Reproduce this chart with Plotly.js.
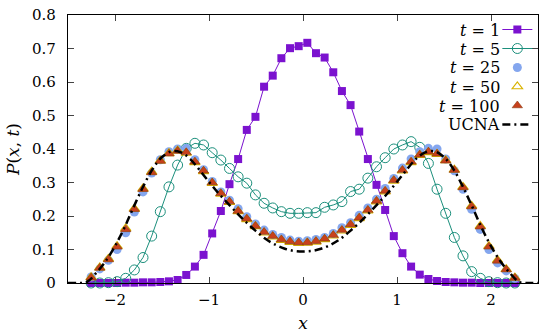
<!DOCTYPE html>
<html>
<head>
<meta charset="utf-8">
<script src="https://cdn.plot.ly/plotly-3.0.1.min.js"></script>
<style>html,body{margin:0;padding:0;background:#fff;}#chart{width:550px;height:336px;}</style>
</head>
<body>
<div id="chart"></div>
<script>
// Sample positions (histogram bin centres)
const xs = [-2.254,-2.162,-2.070,-1.978,-1.886,-1.794,-1.702,-1.610,-1.518,-1.426,-1.334,-1.242,-1.150,-1.058,-0.966,-0.874,-0.782,-0.690,-0.598,-0.506,-0.414,-0.322,-0.230,-0.138,-0.046,0.046,0.138,0.230,0.322,0.414,0.506,0.598,0.690,0.782,0.874,0.966,1.058,1.150,1.242,1.334,1.426,1.518,1.610,1.702,1.794,1.886,1.978,2.070,2.162,2.254];

const p_t1 = [0,0,0,0,0.001,0.001,0.002,0.002,0.003,0.005,0.009,0.024,0.049,0.084,0.148,0.215,0.295,0.370,0.457,0.496,0.586,0.619,0.671,0.701,0.707,0.717,0.686,0.673,0.629,0.573,0.531,0.452,0.370,0.293,0.218,0.140,0.089,0.049,0.025,0.012,0.006,0.003,0.002,0.001,0.001,0,0,0,0,0];

const p_t5 = [0,0,0.001,0.004,0.014,0.039,0.076,0.140,0.213,0.287,0.352,0.402,0.417,0.412,0.389,0.367,0.342,0.317,0.298,0.263,0.238,0.224,0.213,0.208,0.208,0.210,0.210,0.226,0.233,0.243,0.273,0.280,0.313,0.347,0.374,0.400,0.412,0.422,0.405,0.357,0.280,0.208,0.136,0.081,0.034,0.014,0.004,0.001,0,0];

const p_t25 = [0.018,0.042,0.068,0.100,0.150,0.212,0.272,0.328,0.368,0.392,0.400,0.402,0.368,0.338,0.303,0.272,0.247,0.222,0.198,0.176,0.158,0.145,0.136,0.128,0.125,0.126,0.130,0.136,0.148,0.165,0.180,0.202,0.224,0.250,0.282,0.312,0.343,0.370,0.392,0.402,0.400,0.370,0.335,0.280,0.220,0.160,0.100,0.060,0.036,0.014];

const p_t50 = [0.017,0.046,0.072,0.110,0.163,0.222,0.282,0.332,0.365,0.387,0.395,0.388,0.360,0.333,0.298,0.266,0.241,0.214,0.190,0.169,0.150,0.138,0.128,0.122,0.119,0.120,0.123,0.130,0.141,0.156,0.173,0.193,0.216,0.243,0.273,0.305,0.335,0.360,0.382,0.390,0.385,0.366,0.338,0.287,0.230,0.170,0.110,0.068,0.041,0.016];

const p_t100 = [0.016,0.045,0.070,0.108,0.160,0.220,0.280,0.330,0.364,0.386,0.394,0.390,0.362,0.335,0.300,0.268,0.243,0.215,0.192,0.170,0.152,0.140,0.130,0.124,0.121,0.121,0.125,0.132,0.143,0.158,0.175,0.195,0.218,0.245,0.275,0.307,0.337,0.362,0.383,0.392,0.386,0.365,0.337,0.285,0.228,0.168,0.108,0.066,0.040,0.015];

const x_ucna = [-2.5,-2.4,-2.3,-2.2,-2.1,-2.0,-1.9,-1.8,-1.7,-1.6,-1.5,-1.4,-1.3,-1.2,-1.1,-1.0,-0.9,-0.8,-0.7,-0.6,-0.5,-0.4,-0.3,-0.2,-0.1,0,0.1,0.2,0.3,0.4,0.5,0.6,0.7,0.8,0.9,1.0,1.1,1.2,1.3,1.4,1.5,1.6,1.7,1.8,1.9,2.0,2.1,2.2,2.3,2.4,2.5];
const p_ucna = [0,0,0.003,0.030,0.065,0.110,0.165,0.228,0.288,0.340,0.376,0.393,0.390,0.370,0.337,0.302,0.268,0.238,0.208,0.180,0.155,0.132,0.115,0.103,0.096,0.094,0.096,0.103,0.115,0.132,0.155,0.180,0.208,0.238,0.268,0.302,0.337,0.370,0.390,0.393,0.376,0.340,0.288,0.228,0.165,0.110,0.065,0.030,0.003,0,0];

const labels = ['<i>t</i> = 1','<i>t</i> = 5','<i>t</i> = 25','<i>t</i> = 50','<i>t</i> = 100','UCNA'];
const xTicks = [-2,-1,0,1,2];
const yTicks = [0,0.1,0.2,0.3,0.4,0.5,0.6,0.7,0.8];

const FONT = '"DejaVu Serif", "Liberation Serif", serif';

const traces = [
  {x: xs, y: p_t1, mode: 'lines+markers', name: '', cliponaxis: false,
   line: {color: '#7b12cf', width: 1},
   marker: {symbol: 'square', size: 8, color: '#7b12cf'}},
  {x: xs, y: p_t5, mode: 'lines+markers', name: '', cliponaxis: false,
   line: {color: '#1b8f7c', width: 1},
   marker: {symbol: 'circle-open', size: 10, color: '#1b8f7c', line: {width: 1}}},
  {x: xs, y: p_t25, mode: 'markers', name: '', cliponaxis: false,
   marker: {symbol: 'circle', size: 9, color: '#84a6ee'}},
  {x: xs, y: p_t50, mode: 'markers', name: '', cliponaxis: false,
   marker: {symbol: 'triangle-up-open', size: 9, color: '#d9b300', line: {width: 1.2}}},
  {x: xs, y: p_t100, mode: 'markers', name: '', cliponaxis: false,
   marker: {symbol: 'triangle-up', size: 9, color: '#c8401c', line: {width: 0.6, color: '#8a3a10'}}},
  {x: x_ucna, y: p_ucna, mode: 'lines', name: '', cliponaxis: false,
   line: {color: '#000000', width: 2.5, dash: '8px,4px,2px,4px', shape: 'spline'}}
];

const rowPx = [30, 49, 68, 87, 106, 125];
const annotations = labels.map((t, i) => ({
  xref: 'paper', yref: 'paper', x: (506 - 68) / 474, y: (283 - rowPx[i]) / 268,
  xanchor: 'right', yanchor: 'middle', text: t, showarrow: false,
  font: {family: FONT, size: 16, color: '#000'}
}));

const layout = {
  width: 550, height: 336,
  margin: {l: 68, r: 8, t: 15, b: 53},
  paper_bgcolor: '#fff', plot_bgcolor: '#fff',
  font: {family: FONT, size: 15, color: '#000'},
  showlegend: true,
  legend: {x: (501 - 68) / 474, xanchor: 'left', y: 1, yanchor: 'top',
           bgcolor: 'rgba(0,0,0,0)', font: {family: FONT, size: 10}},
  xaxis: {range: [-2.5, 2.5], tickvals: xTicks, ticks: 'inside', ticklen: 6, tickwidth: 1,
          showline: true, linecolor: '#000', linewidth: 1.2, mirror: 'ticks',
          showgrid: false, zeroline: false, ticklabelstandoff: 3,
          tickfont: {family: FONT, size: 15},
          title: {text: '<i>x</i>', font: {family: FONT, size: 17}, standoff: 8}},
  yaxis: {range: [0, 0.8], tickvals: yTicks, ticks: 'inside', ticklen: 6, tickwidth: 1,
          showline: true, linecolor: '#000', linewidth: 1.2, mirror: 'ticks',
          showgrid: false, zeroline: false, ticklabelstandoff: 8,
          tickfont: {family: FONT, size: 15},
          title: {text: '<i>P</i>(<i>x</i>, <i>t</i>)', font: {family: FONT, size: 17}, standoff: 8}},
  annotations: annotations
};

Plotly.newPlot('chart', traces, layout, {displayModeBar: false, staticPlot: true});
</script>
</body>
</html>
